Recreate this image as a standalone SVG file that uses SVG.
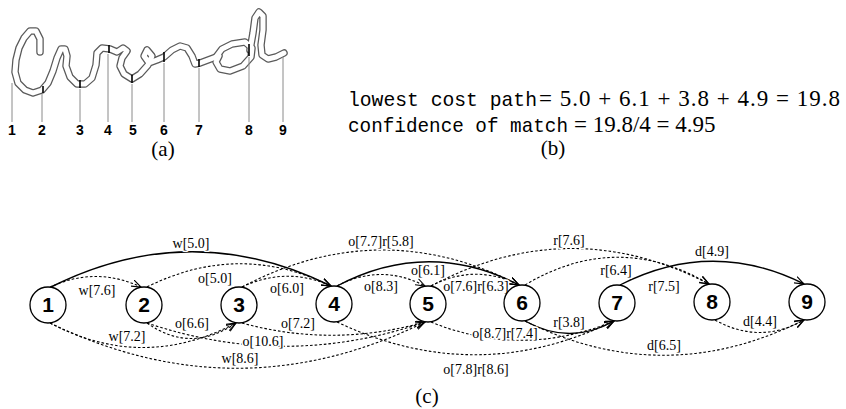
<svg xmlns="http://www.w3.org/2000/svg" width="846" height="409" viewBox="0 0 846 409">
<defs>
<marker id="ah" viewBox="0 0 10 8" refX="9.5" refY="4" markerWidth="10" markerHeight="8" markerUnits="userSpaceOnUse" orient="auto">
<path d="M0,0.5 L9.5,4 L0,7.5" fill="none" stroke="#000" stroke-width="1.1"/>
</marker>
<style>
.hw1{fill:none;stroke:#5a5a5a;stroke-width:7.5;stroke-linecap:round;stroke-linejoin:round}
.hw2{fill:none;stroke:#fff;stroke-width:5;stroke-linecap:round;stroke-linejoin:round}
.tick{stroke:#000;stroke-width:1.6}
.guide{stroke:#8a8a8a;stroke-width:1}
.pn{font-family:"Liberation Sans",Arial,sans-serif;font-weight:bold;font-size:14px;text-anchor:middle;fill:#000}
.cap{font-family:"Liberation Serif","Times New Roman",serif;font-size:21px;text-anchor:middle;fill:#000}
.mono{font-family:"Liberation Mono","Courier New",monospace;font-size:21px;fill:#000}
.math{font-family:"Liberation Serif","Times New Roman",serif;font-size:23px;fill:#000}
.node circle{fill:#fff;stroke:#000;stroke-width:1.3}
.node text{font-family:"Liberation Sans",Arial,sans-serif;font-weight:bold;font-size:21px;text-anchor:middle;fill:#000}
.e{fill:none;stroke:#000;marker-end:url(#ah)}
.d{stroke-width:1.1;stroke-dasharray:2.6 2}
.s{stroke-width:1.4}
.lbl{font-family:"Liberation Serif","Times New Roman",serif;font-size:14px;text-anchor:middle;fill:#000;stroke:#fff;stroke-width:3;paint-order:stroke;stroke-linejoin:round}
</style>
</defs>
<rect width="846" height="409" fill="#fff"/>

<!-- (a) handwriting -->
<g id="handwriting">
<polyline class="hw1" points="40,52 40,39 36,31 30,31 24,38 19,48 16,60 15,72 18,83 25,90 33,93 42,90 48,83 53,71 57,58 61,49 65,49 67,56 66,66 70,77 77,84 85,84 92,78 96,65 97,53 102,48 110,49 117,52 123,48 127,51 122,58 120,66 124,74 132,79 140,74 148,65 152,56 147,50 144,56 149,63 157,60 164,57 172,50 180,46 187,48 192,56 195,64 200,63 208,60 216,57"/>
<polyline class="hw1" points="216,57 222,49 232,44 245,42 252,48 251,57 243,66 230,71 220,69 216,62 219,56"/>
<polyline class="hw1" points="250,50 253,33 255,18 259,12 263,16 263,30 261,45 262,55 268,59 276,57 284,53"/>
<polyline class="hw2" points="40,52 40,39 36,31 30,31 24,38 19,48 16,60 15,72 18,83 25,90 33,93 42,90 48,83 53,71 57,58 61,49 65,49 67,56 66,66 70,77 77,84 85,84 92,78 96,65 97,53 102,48 110,49 117,52 123,48 127,51 122,58 120,66 124,74 132,79 140,74 148,65 152,56 147,50 144,56 149,63 157,60 164,57 172,50 180,46 187,48 192,56 195,64 200,63 208,60 216,57"/>
<polyline class="hw2" points="216,57 222,49 232,44 245,42 252,48 251,57 243,66 230,71 220,69 216,62 219,56"/>
<polyline class="hw2" points="250,50 253,33 255,18 259,12 263,16 263,30 261,45 262,55 268,59 276,57 284,53"/>
<line class="tick" x1="43" y1="86" x2="43" y2="93"/>
<line class="tick" x1="80" y1="80" x2="80" y2="88"/>
<line class="tick" x1="109" y1="45" x2="109" y2="53"/>
<line class="tick" x1="132" y1="75" x2="132" y2="83"/>
<line class="tick" x1="164" y1="52" x2="164" y2="62"/>
<line class="tick" x1="199" y1="59" x2="199" y2="67"/>
<line class="tick" x1="249" y1="44" x2="249" y2="56"/>
<line class="guide" x1="12" y1="83" x2="12" y2="122"/>
<line class="guide" x1="42" y1="94" x2="42" y2="122"/>
<line class="guide" x1="80" y1="89" x2="80" y2="122"/>
<line class="guide" x1="108" y1="54" x2="108" y2="122"/>
<line class="guide" x1="132" y1="84" x2="132" y2="122"/>
<line class="guide" x1="164" y1="63" x2="164" y2="122"/>
<line class="guide" x1="199" y1="68" x2="199" y2="122"/>
<line class="guide" x1="249" y1="57" x2="249" y2="122"/>
<line class="guide" x1="283" y1="57" x2="283" y2="122"/>
<text class="pn" x="12" y="135">1</text>
<text class="pn" x="42" y="135">2</text>
<text class="pn" x="80" y="135">3</text>
<text class="pn" x="108" y="135">4</text>
<text class="pn" x="133" y="135">5</text>
<text class="pn" x="164" y="135">6</text>
<text class="pn" x="199" y="135">7</text>
<text class="pn" x="249" y="135">8</text>
<text class="pn" x="283" y="135">9</text>
<text class="cap" x="163" y="156">(a)</text>
</g>

<!-- (b) text -->
<g id="formula">
<text class="mono" x="348" y="106" textLength="189" lengthAdjust="spacingAndGlyphs">lowest cost path</text>
<text class="math" x="539" y="106" textLength="301" lengthAdjust="spacing">= 5.0 + 6.1 + 3.8 + 4.9 = 19.8</text>
<text class="mono" x="348" y="132" textLength="220" lengthAdjust="spacingAndGlyphs">confidence of match</text>
<text class="math" x="574" y="132">= 19.8/4 = 4.95</text>
<text class="cap" x="553" y="155">(b)</text>
</g>

<!-- (c) graph connectors -->
<g id="connectors">
<path class="e d" d="M50,287 Q96,266 141,287"/>
<path class="e s" d="M51,287 Q191,217 331,286"/>
<path class="e d" d="M147,287 Q239,241 331,286"/>
<path class="e d" d="M242,287 Q287,266 331,286"/>
<path class="e d" d="M242,287 Q381,214 519,285"/>
<path class="e d" d="M337,286 Q381,263 425,286"/>
<path class="e s" d="M337,286 Q428,238 519,285"/>
<path class="e d" d="M431,286 Q475,263 519,285"/>
<path class="e d" d="M431,286 Q570,212 709,284"/>
<path class="e d" d="M525,285 Q617,230 709,284"/>
<path class="e s" d="M620,285 Q712,238 804,284"/>
<path class="e d" d="M50,323 Q143,372 236,323"/>
<path class="e d" d="M147,323 Q191,354 236,323"/>
<path class="e d" d="M50,323 Q238,414 425,322"/>
<path class="e d" d="M147,323 Q286,370 425,322"/>
<path class="e d" d="M242,323 Q333,348 425,322"/>
<path class="e d" d="M337,322 Q476,388 614,321"/>
<path class="e d" d="M431,322 Q522,359 614,321"/>
<path class="e s" d="M525,321 Q570,346 614,321"/>
<path class="e d" d="M525,321 Q664,390 804,320"/>
<path class="e d" d="M715,320 Q760,345 804,320"/>
</g>

<g id="edge-labels">
<text class="lbl" x="191" y="248">w[5.0]</text>
<text class="lbl" x="97" y="295">w[7.6]</text>
<text class="lbl" x="215" y="283">o[5.0]</text>
<text class="lbl" x="287" y="293">o[6.0]</text>
<text class="lbl" x="192" y="328">o[6.6]</text>
<text class="lbl" x="127" y="341">w[7.2]</text>
<text class="lbl" x="263" y="346">o[10.6]</text>
<text class="lbl" x="240" y="363">w[8.6]</text>
<text class="lbl" x="381" y="246">o[7.7]r[5.8]</text>
<text class="lbl" x="381" y="291">o[8.3]</text>
<text class="lbl" x="428" y="275">o[6.1]</text>
<text class="lbl" x="476" y="291">o[7.6]r[6.3]</text>
<text class="lbl" x="298" y="328">o[7.2]</text>
<text class="lbl" x="505" y="338">o[8.7]r[7.4]</text>
<text class="lbl" x="476" y="374">o[7.8]r[8.6]</text>
<text class="lbl" x="569" y="245">r[7.6]</text>
<text class="lbl" x="569" y="327">r[3.8]</text>
<text class="lbl" x="616" y="275">r[6.4]</text>
<text class="lbl" x="664" y="291">r[7.5]</text>
<text class="lbl" x="712" y="256">d[4.9]</text>
<text class="lbl" x="760" y="326">d[4.4]</text>
<text class="lbl" x="664" y="350">d[6.5]</text>
</g>

<g id="n1" class="node"><circle cx="48" cy="305" r="18"/><text x="48" y="312">1</text></g>
<g id="n2" class="node"><circle cx="144" cy="305" r="18"/><text x="144" y="312">2</text></g>
<g id="n3" class="node"><circle cx="239" cy="305" r="18"/><text x="239" y="312">3</text></g>
<g id="n4" class="node"><circle cx="334" cy="304" r="18"/><text x="334" y="311">4</text></g>
<g id="n5" class="node"><circle cx="428" cy="304" r="18"/><text x="428" y="311">5</text></g>
<g id="n6" class="node"><circle cx="522" cy="303" r="18"/><text x="522" y="310">6</text></g>
<g id="n7" class="node"><circle cx="617" cy="303" r="18"/><text x="617" y="310">7</text></g>
<g id="n8" class="node"><circle cx="712" cy="302" r="18"/><text x="712" y="309">8</text></g>
<g id="n9" class="node"><circle cx="807" cy="302" r="18"/><text x="807" y="309">9</text></g>

<text class="cap" x="427" y="403">(c)</text>
</svg>
